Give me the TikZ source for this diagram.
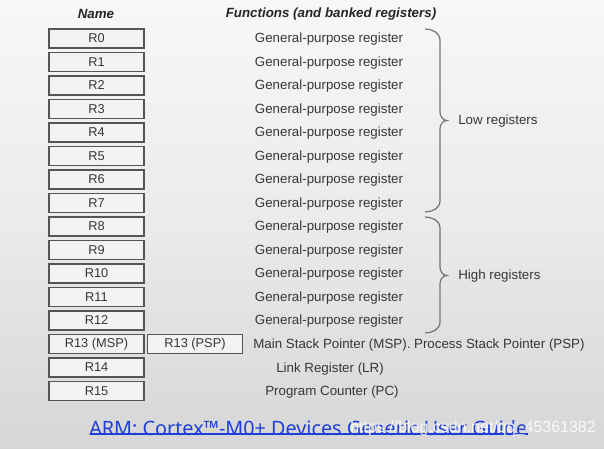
\documentclass[tikz,border=0pt]{standalone}
\usepackage{fontspec}
\setmainfont{Liberation Sans}
\newfontfamily\linkfont{Noto Sans}
\usetikzlibrary{calc}
\definecolor{txt}{HTML}{363636}
\definecolor{boxline}{HTML}{555555}
\definecolor{boxfill}{HTML}{F3F3F3}
\definecolor{linkblue}{HTML}{1F3FD8}
\tikzset{
  regbox/.style={draw=boxline, line width=1.2pt, fill=boxfill, minimum width=71pt, minimum height=14.2pt, inner sep=0pt, font=\fontsize{9.6}{10}\selectfont, text=txt},
  functxt/.style={font=\fontsize{10}{11}\selectfont, text=txt, inner sep=0pt},
  header/.style={font=\fontsize{10}{11}\selectfont\bfseries\itshape, text=black!85, inner sep=0pt},
  bracestyle/.style={draw=black!55, line width=0.9pt},
}
\begin{document}
\begin{tikzpicture}[x=0.75pt,y=-0.75pt]
\shade[top color=white!97!black, bottom color=white!84!black, middle color=white!92!black] (0,0) rectangle (604,449);
\useasboundingbox (0,0) rectangle (604,449);
\node[header] (hname) at (96,14) {Name};
\node[header] (hfunc) at (331,14) {Functions (and banked registers)};
\foreach \i in {0,...,12} {
  \node[regbox] (r\i) at (96.5,{38.5+23.5*\i}) {R\i};
  \node[functxt] (f\i) at (329,{39.5+23.5*\i}) {General-purpose register};
}
\node[regbox] (r13) at (96.5,344) {R13 (MSP)};
\node[regbox] (r13p) at (195,344) {R13 (PSP)};
\node[regbox] (r14) at (96.5,367.5) {R14};
\node[regbox] (r15) at (96.5,391) {R15};
\node[functxt] (f13) at (419,345.5) {Main Stack Pointer (MSP). Process Stack Pointer (PSP)};
\node[functxt] (f14) at (330,369) {Link Register (LR)};
\node[functxt] (f15) at (332,392.5) {Program Counter (PC)};
% braces
\draw[bracestyle] (425,29) to[out=0,in=90] (440,40) -- (440,112) to[out=-90,in=180] (447,120.5) to[out=180,in=90] (440,129) -- (440,201) to[out=-90,in=0] (425,212);
\draw[bracestyle] (425,217) to[out=0,in=90] (440,228) -- (440,267) to[out=-90,in=180] (447,275.5) to[out=180,in=90] (440,284) -- (440,322) to[out=-90,in=0] (425,333);
\node[functxt, anchor=west] (low) at (458,121) {Low registers};
\node[functxt, anchor=west] (high) at (458,276) {High registers};
% link
\node[inner sep=0pt, anchor=west, text=linkblue, font=\linkfont\fontsize{14.85}{16}\selectfont] (link) at (89,428) {ARM: Cortex™-M0+ Devices Generic User Guide};
\draw[linkblue, line width=0.9pt] ($(link.south west)+(1,-2)$) -- ($(link.south east)+(0,-2)$);
\node[inner sep=0pt, anchor=west, text=white, opacity=0.85, font=\fontsize{12}{14}\selectfont] (wm) at (350,428) {https://blog.csdn.net/qq\_45361382};
\end{tikzpicture}
\end{document}
